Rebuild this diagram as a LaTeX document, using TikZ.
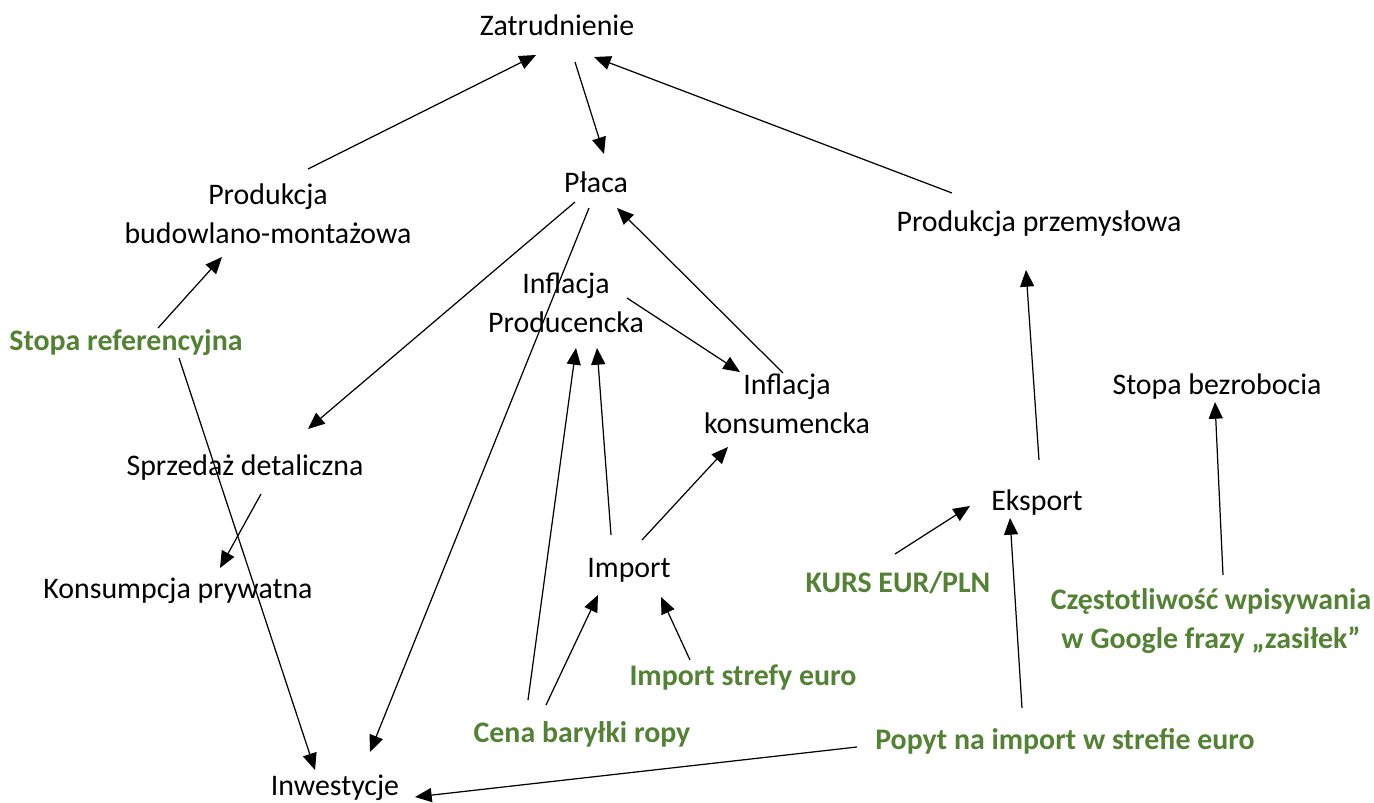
\documentclass[tikz,border=0pt]{standalone}
\usepackage{fontspec}
\setmainfont{Carlito}
\usepackage{xcolor}
\usetikzlibrary{arrows.meta}
\definecolor{factorgreen}{RGB}{84,130,53}

\begin{document}
\begin{tikzpicture}
[
  x=0.02cm, y=-0.02cm,
  every node/.style={font=\fontsize{17}{22}\selectfont, align=center, inner sep=0pt},
  factor/.style={text=factorgreen, font=\fontsize{17}{22}\selectfont\bfseries}
]
\useasboundingbox (0,0) rectangle (1374,803);

\node (zat) at (557,25) {Zatrudnienie};
\node (pla) at (596,182) {Płaca};
\node (pbm) at (268,214) {Produkcja\\budowlano-montażowa};
\node (ppr) at (1039,224) {Produkcja przemysłowa};
\node (ipr) at (566,303) {Inflacja\\Producencka};
\node (iko) at (787,404) {Inflacja\\konsumencka};
\node (sbez) at (1217,387) {Stopa bezrobocia};
\node (sprz) at (245,468) {Sprzedaż detaliczna};
\node (eks) at (1037,503) {Eksport};
\node (imp) at (629,570) {Import};
\node (kons) at (178,591) {Konsumpcja prywatna};
\node (inw) at (335,788) {Inwestycje};

\node[factor] (sref) at (126,343) {Stopa referencyjna};
\node[factor] (kurs) at (898,583) {KURS EUR/PLN};
\node[factor] (czest) at (1211,621) {Częstotliwość wpisywania\\w Google frazy „zasiłek”};
\node[factor] (impeu) at (743,677) {Import strefy euro};
\node[factor] (ropa) at (582,734) {Cena baryłki ropy};
\node[factor] (popyt) at (1065,741) {Popyt na import w strefie euro};

% arrow ends
\coordinate (pbm-zat) at (308,169);
\coordinate (zat-pbm) at (536,55);
\coordinate (zat-pla) at (575,62);
\coordinate (pla-zat) at (604,154);
\coordinate (ppr-zat) at (952,193);
\coordinate (zat-ppr) at (594,57);
\coordinate (pla-sprz) at (575,202);
\coordinate (sprz-pla) at (308,429);
\coordinate (pla-inw) at (589,208);
\coordinate (inw-pla) at (370,752);
\coordinate (iko-pla) at (783,373);
\coordinate (pla-iko) at (617,208);
\coordinate (ipr-iko) at (627,298);
\coordinate (iko-ipr) at (740,372);
\coordinate (imp-ipr) at (611,535);
\coordinate (ipr-imp) at (597,348);
\coordinate (ropa-ipr) at (528,700);
\coordinate (ipr-ropa) at (576,348);
\coordinate (ropa-imp) at (546,705);
\coordinate (imp-ropa) at (598,595);
\coordinate (imp-iko) at (642,540);
\coordinate (iko-imp) at (728,447);
\coordinate (impeu-imp) at (690,660);
\coordinate (imp-impeu) at (661,597);
\coordinate (sref-pbm) at (158,328);
\coordinate (pbm-sref) at (222,257);
\coordinate (sref-inw) at (179,358);
\coordinate (inw-sref) at (315,770);
\coordinate (sprz-kons) at (261,494);
\coordinate (kons-sprz) at (220,568);
\coordinate (popyt-inw) at (857,747);
\coordinate (inw-popyt) at (415,797);
\coordinate (popyt-eks) at (1022,708);
\coordinate (eks-popyt) at (1010,518);
\coordinate (kurs-eks) at (895,554);
\coordinate (eks-kurs) at (970,506);
\coordinate (eks-ppr) at (1039,460);
\coordinate (ppr-eks) at (1026,270);
\coordinate (czest-sbez) at (1223,575);
\coordinate (sbez-czest) at (1215,402);

\path[-{Triangle[length=9.5pt,width=8pt]},line width=0.7pt]
(pbm-zat) edge (zat-pbm)
(zat-pla) edge (pla-zat)
(ppr-zat) edge (zat-ppr)
(pla-sprz) edge (sprz-pla)
(pla-inw) edge (inw-pla)
(iko-pla) edge (pla-iko)
(ipr-iko) edge (iko-ipr)
(imp-ipr) edge (ipr-imp)
(ropa-ipr) edge (ipr-ropa)
(ropa-imp) edge (imp-ropa)
(imp-iko) edge (iko-imp)
(impeu-imp) edge (imp-impeu)
(sref-pbm) edge (pbm-sref)
(sref-inw) edge (inw-sref)
(sprz-kons) edge (kons-sprz)
(popyt-inw) edge (inw-popyt)
(popyt-eks) edge (eks-popyt)
(kurs-eks) edge (eks-kurs)
(eks-ppr) edge (ppr-eks)
(czest-sbez) edge (sbez-czest);

\end{tikzpicture}
\end{document}
